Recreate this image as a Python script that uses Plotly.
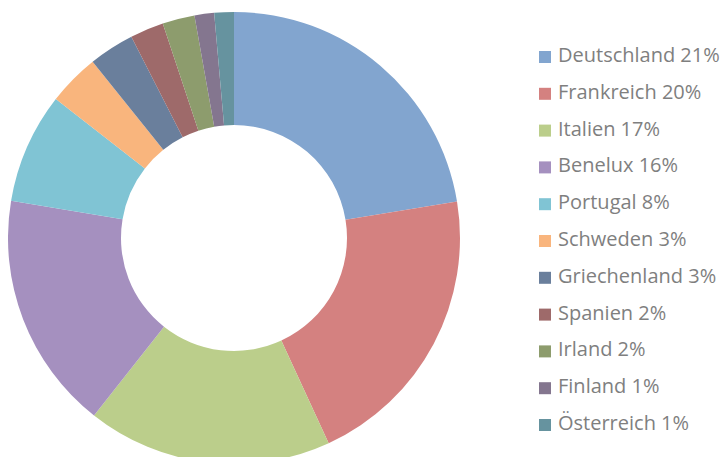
import plotly.graph_objects as go

# The page puts the figure 8px from the top-left corner of the window,
# so the layout below is expressed in figure pixels (page pixels - 8).
W, H = 728, 460
OFF = 8

countries = ["Deutschland", "Frankreich", "Italien", "Benelux", "Portugal", "Schweden",
             "Griechenland", "Spanien", "Irland", "Finland", "Österreich"]
shares = [22.4, 20.7, 17.5, 17.0, 7.9, 3.7, 3.25, 2.4, 2.3, 1.4, 1.4]
legend_labels = ["Deutschland 21%", "Frankreich 20%", "Italien 17%", "Benelux 16%", "Portugal 8%",
                 "Schweden 3%", "Griechenland 3%", "Spanien 2%", "Irland 2%", "Finland 1%",
                 "Österreich 1%"]
colors = ["#82A5CF", "#D48180", "#BBCE8B", "#A590BF", "#80C4D4", "#F9B57D",
          "#6A7F9C", "#9E6A6A", "#8D9C6D", "#84768F", "#66939F"]

# pie placement (page pixels): centre (234, 238), radius 226
cx, cy, r = 234 - OFF, 238 - OFF, 226

fig = go.Figure()
fig.add_trace(go.Pie(
    labels=countries, values=shares, sort=False, direction="clockwise", rotation=0,
    hole=0.5, marker=dict(colors=colors, line=dict(width=0)),
    textinfo="none", hoverinfo="label+percent", showlegend=False,
    domain=dict(x=[(cx - r) / W, (cx + r) / W],
                y=[1 - (cy + r) / H, 1 - (cy - r) / H]),
))

annotations = []
shapes = []
for i, (lab, col) in enumerate(zip(legend_labels, colors)):
    yc = 54.5 + i * 36.8 - OFF
    annotations.append(dict(
        text=lab, x=(556 - OFF) / W, y=1 - yc / H, xref="paper", yref="paper",
        xanchor="left", yanchor="middle", showarrow=False,
        font=dict(family="Open Sans", size=20, color="#7F7F7F"),
    ))
    shapes.append(dict(
        type="rect", xref="paper", yref="paper",
        x0=(539 - OFF) / W, x1=(551 - OFF) / W,
        y0=1 - (yc + 8.5) / H, y1=1 - (yc - 3.5) / H,
        fillcolor=col, line=dict(width=0),
    ))

fig.update_layout(
    width=W, height=H, margin=dict(l=0, r=0, t=0, b=0),
    paper_bgcolor="white", plot_bgcolor="white",
    annotations=annotations, shapes=shapes,
)

fig.write_html("out.html")
